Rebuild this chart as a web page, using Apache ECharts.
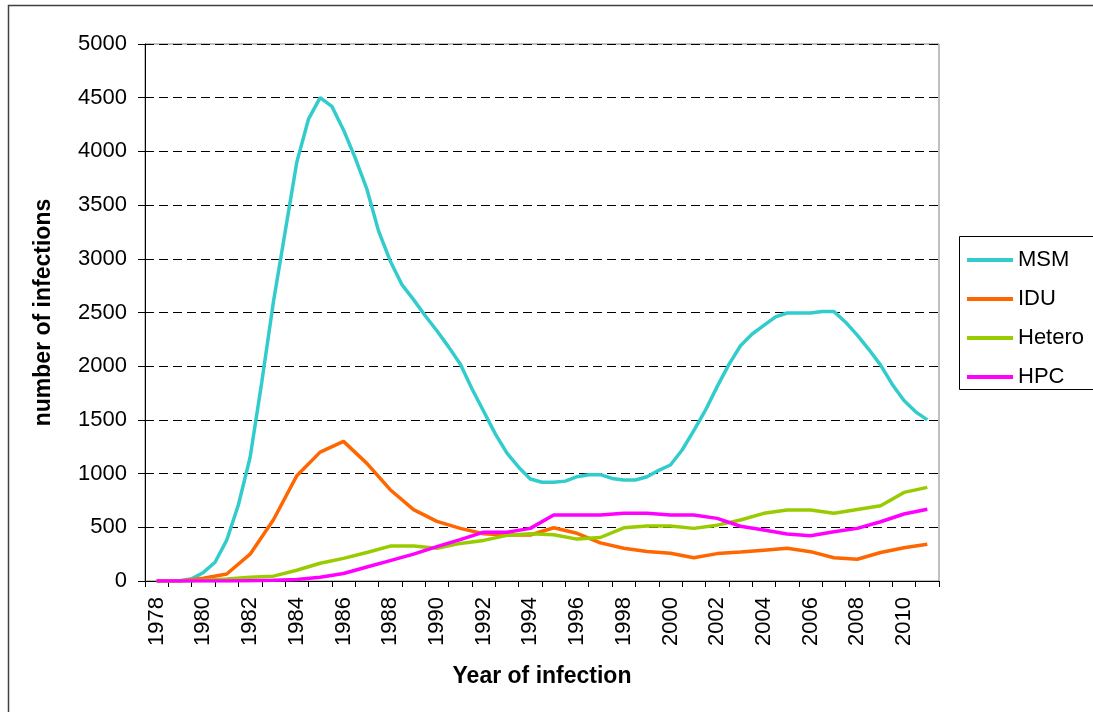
<!DOCTYPE html>
<html>
<head>
<meta charset="utf-8">
<script src="https://cdn.jsdelivr.net/npm/echarts@6/dist/echarts.min.js"></script>
<style>
  html, body { margin: 0; padding: 0; background: #fff; }
  #chart { width: 1093px; height: 712px; }
</style>
</head>
<body>
<div id="chart"></div>
<script>
  // years shown on the axis (one tick per year, label every 2 years)
  var years = [1978, 1979, 1980, 1981, 1982, 1983, 1984, 1985, 1986, 1987, 1988, 1989,
    1990, 1991, 1992, 1993, 1994, 1995, 1996, 1997, 1998, 1999, 2000, 2001, 2002,
    2003, 2004, 2005, 2006, 2007, 2008, 2009, 2010, 2011];

  // MSM is half-yearly: 1978, 1978.5, ... 2011
  var msm = [0, 0, 3, 20, 80, 175, 380, 710, 1150, 1850, 2600, 3250, 3900, 4300,
    4500, 4420, 4200, 3940, 3650, 3260, 2980, 2760, 2620, 2470, 2330, 2180, 2020,
    1790, 1580, 1370, 1190, 1060, 950, 920, 919, 930, 971, 990, 990, 955, 940, 940,
    971, 1030, 1080, 1220, 1400, 1590, 1810, 2015, 2190, 2300, 2380, 2460, 2495,
    2495, 2495, 2510, 2510, 2410, 2290, 2155, 2010, 1830, 1680, 1575, 1500];

  // yearly series 1978..2011
  var idu = [0, 0, 25, 65, 250, 570, 980, 1200, 1300, 1095, 850, 665, 555, 490, 440,
    428, 428, 496, 444, 355, 305, 275, 258, 217, 255, 270, 287, 304, 273, 217, 202,
    265, 310, 342];
  var hetero = [0, 0, 8, 18, 34, 45, 100, 165, 211, 265, 325, 325, 305, 350, 378,
    425, 440, 430, 390, 405, 495, 512, 512, 490, 520, 568, 630, 661, 661, 630, 665,
    700, 825, 872];
  var hpc = [0, 0, 0, 0, 3, 6, 15, 35, 70, 130, 190, 250, 320, 385, 455, 453, 490,
    614, 614, 614, 630, 630, 614, 614, 583, 510, 475, 438, 422, 459, 490, 552, 624,
    668];

  var yTicks = [0, 500, 1000, 1500, 2000, 2500, 3000, 3500, 4000, 4500, 5000];

  // half-year slots from 1977.5 to 2011.5, so ticks fall between years
  var cats = ['1977.5'];
  years.forEach(function (y) { cats.push(String(y)); cats.push(String(y + 0.5)); });

  function halfYearly(arr) {
    var out = [null];
    arr.forEach(function (v) { out.push(v); });
    while (out.length < cats.length) out.push(null);
    return out;
  }
  function yearly(arr) {
    var out = [null];
    arr.forEach(function (v) { out.push(v); out.push(null); });
    return out;
  }

  var font = '"Liberation Sans", Arial, sans-serif';
  var chart = echarts.init(document.getElementById('chart'));

  function line(name, color, data) {
    return {
      name: name,
      type: 'line',
      data: data,
      connectNulls: true,
      symbol: 'none',
      lineStyle: { color: color, width: 3.5 },
      itemStyle: { color: color }
    };
  }

  chart.setOption({
    animation: false,
    backgroundColor: '#fff',
    grid: {
      left: 145, right: 154, top: 44, bottom: 131,
      show: true, borderColor: '#808080', borderWidth: 1
    },
    legend: {
      orient: 'vertical',
      left: 962, top: 244,
      icon: 'rect',
      itemWidth: 46, itemHeight: 4, itemGap: 17,
      textStyle: { fontFamily: font, fontSize: 22, color: '#000' },
      data: ['MSM', 'IDU', 'Hetero', 'HPC']
    },
    xAxis: {
      type: 'category',
      data: cats,
      boundaryGap: false,
      name: 'Year of infection',
      nameLocation: 'middle',
      nameGap: 84,
      nameTextStyle: { fontFamily: font, fontSize: 23, fontWeight: 'bold', color: '#000' },
      axisLine: { lineStyle: { color: '#000', width: 1 } },
      axisTick: {
        length: 6,
        interval: function (i) { return i % 2 === 0; },
        lineStyle: { color: '#000' }
      },
      axisLabel: {
        rotate: 90,
        margin: 16,
        interval: function (i) { return i % 4 === 1; },
        fontFamily: font, fontSize: 22, color: '#000'
      },
      splitLine: { show: false }
    },
    yAxis: {
      type: 'value',
      min: yTicks[0],
      max: yTicks[yTicks.length - 1],
      interval: 500,
      name: 'number of infections',
      nameLocation: 'middle',
      nameGap: 90,
      nameTextStyle: { fontFamily: font, fontSize: 23, fontWeight: 'bold', color: '#000' },
      axisLine: { show: true, lineStyle: { color: '#000', width: 1 } },
      axisTick: { show: true, length: 7, lineStyle: { color: '#000' } },
      axisLabel: {
        margin: 18, fontFamily: font, fontSize: 22, color: '#000',
        formatter: function (v) { return String(v); }
      },
      splitLine: { lineStyle: { color: '#000', type: [9, 5], width: 1 } }
    },
    graphic: [
      {
        type: 'rect',
        shape: { x: 8.5, y: 5.5, width: 1200, height: 800 },
        style: { fill: 'none', stroke: '#404040', lineWidth: 1.5 },
        silent: true
      },
      {
        type: 'rect',
        shape: { x: 959.5, y: 236.5, width: 200, height: 153 },
        style: { fill: 'none', stroke: '#000', lineWidth: 1 },
        silent: true
      }
    ],
    series: [
      line('MSM', '#33CCCC', halfYearly(msm)),
      line('IDU', '#FF6600', yearly(idu)),
      line('Hetero', '#99CC00', yearly(hetero)),
      line('HPC', '#FF00FF', yearly(hpc))
    ]
  });
</script>
</body>
</html>
